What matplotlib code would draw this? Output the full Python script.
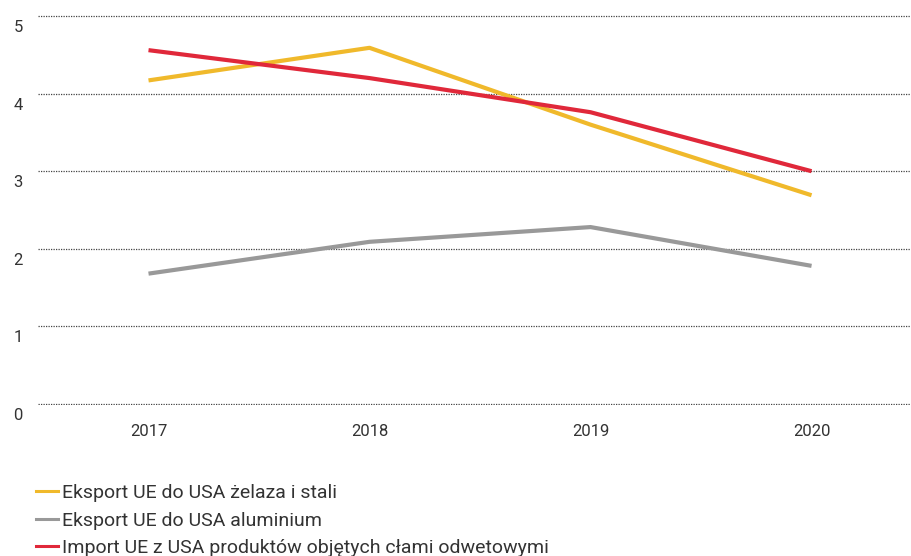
import matplotlib.pyplot as plt
import matplotlib.transforms as mtransforms
from matplotlib.lines import Line2D

plt.rcParams['font.family'] = ['Roboto', 'DejaVu Sans']

years = ['2017', '2018', '2019', '2020']
steel_export = [4.17, 4.59, 3.6, 2.69]
alu_export = [1.68, 2.09, 2.28, 1.78]
us_import = [4.56, 4.2, 3.76, 3.0]
labels = ['Eksport UE do USA żelaza i stali',
          'Eksport UE do USA aluminium',
          'Import UE z USA produktów objętych cłami odwetowymi']
colors = ['#F0B92B', '#999999', '#E0283A']

fig = plt.figure(figsize=(9.11, 5.56), dpi=100)
ax = fig.add_axes([38 / 911, 1 - 405 / 556, 1 - 38 / 911, (405 - 15) / 556])

x = range(len(years))
for vals, lab, c in zip([steel_export, alu_export, us_import], labels, colors):
    ax.plot(x, vals, color=c, lw=3, label=lab, solid_capstyle='butt')

ax.set_ylim(-0.013, 5.013)
ax.set_xlim(-0.5, 3.45)
ax.set_yticks(range(6))
ax.set_xticks(list(x))
ax.set_xticklabels(years)
ax.grid(axis='y', color='#444444', linestyle=(0, (1, 1)), lw=0.9)
ax.set_axisbelow(True)
for s in ax.spines.values():
    s.set_visible(False)
ax.tick_params(length=0, labelsize=12, labelcolor='#333333')
ax.tick_params(axis='x', pad=14)
ax.tick_params(axis='y', pad=11)
off = mtransforms.ScaledTranslation(0, -0.1, fig.dpi_scale_trans)
for lbl in ax.get_yticklabels():
    lbl.set_transform(lbl.get_transform() + off)

# legend sits under the axes, last row runs off the bottom edge like the original
handles = [Line2D([], [], color=c, lw=2.2) for c in colors]
fig.legend(handles, labels, loc='upper left', bbox_to_anchor=(28 / 911, 1 - 476 / 556),
           frameon=False, fontsize=14, handlelength=1.15, handletextpad=0.2,
           labelspacing=0.5, borderaxespad=0, labelcolor='#333333')

fig.savefig('out.png', dpi=100)
